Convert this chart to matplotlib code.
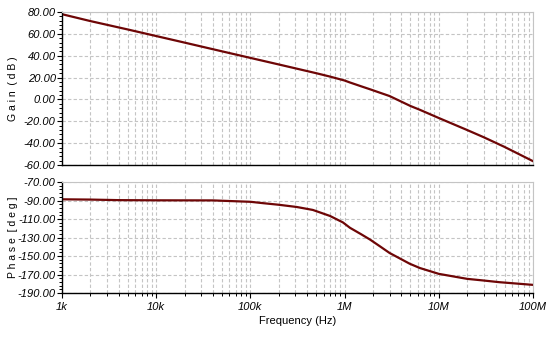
import matplotlib.pyplot as plt
import numpy as np
from matplotlib.ticker import LogLocator, MultipleLocator, AutoMinorLocator, FixedLocator, NullFormatter

plt.rcParams['font.family'] = ['Liberation Sans', 'DejaVu Sans']

# bode data: gain
gain_freq = [1e3, 2e3, 5e3, 1e4, 2e4, 5e4, 1e5, 2e5, 5e5, 7e5, 1e6, 1.14e6,
             1.5e6, 1.86e6, 3e6, 5e6, 6.3e6, 1e7, 2e7, 3e7, 5e7, 1e8]
gain_db = [78.0, 71.7, 64.0, 58.0, 52.0, 44.0, 38.0, 32.0, 24.0, 20.9, 17.3,
           15.5, 12.0, 9.3, 3.1, -6.0, -9.5, -17.0, -28.0, -34.6, -43.5, -56.5]

# bode data: phase
phase_freq = [1e3, 2e3, 4e3, 1e4, 4e4, 1e5, 1.37e5, 2e5, 3.1e5, 4.6e5, 7e5,
              9.6e5, 1.14e6, 1.5e6, 1.86e6, 2.37e6, 3e6, 4.9e6, 6.3e6, 1e7,
              2e7, 3e7, 4.4e7, 1e8]
phase_deg = [-88.7, -89.0, -89.6, -89.8, -89.9, -91.4, -92.9, -94.6, -97.0,
             -100.2, -106.7, -113.7, -119.5, -126.5, -132.2, -139.5, -146.7,
             -158.3, -163.0, -169.3, -174.7, -176.5, -178.3, -181.2]

xtick_vals = [1e3, 1e4, 1e5, 1e6, 1e7, 1e8]
xtick_labels = ['1k', '10k', '100k', '1M', '10M', '100M']

line_col = '#6e0606'
grid_col = '#c4c4c4'

fig = plt.figure(figsize=(5.54, 3.4), dpi=100)
ax1 = fig.add_axes([0.1119, 0.5147, 0.8502, 0.4500])
ax2 = fig.add_axes([0.1119, 0.1382, 0.8502, 0.3265])

ax1.plot(gain_freq, gain_db, color=line_col, lw=1.6)
ax2.plot(phase_freq, phase_deg, color=line_col, lw=1.6)

for ax in (ax1, ax2):
    ax.set_xscale('log')
    ax.set_xlim(1e3, 1e8)
    ax.xaxis.set_major_locator(FixedLocator(xtick_vals))
    ax.xaxis.set_minor_locator(LogLocator(base=10, subs=np.arange(2, 10)))
    ax.xaxis.set_minor_formatter(NullFormatter())
    ax.yaxis.set_minor_locator(AutoMinorLocator(5))
    ax.grid(which='major', color=grid_col, ls=(0, (3, 2)), lw=0.8)
    ax.grid(which='minor', axis='x', color=grid_col, ls=(0, (3, 2)), lw=0.8)
    ax.spines['top'].set_color(grid_col)
    ax.spines['right'].set_color(grid_col)
    ax.spines['left'].set_linewidth(1.0)
    ax.spines['bottom'].set_linewidth(1.0)
    ax.tick_params(which='major', direction='out', length=3.5, width=0.8, labelsize=8)
    ax.tick_params(which='minor', direction='out', length=2, width=0.7)
    ax.tick_params(axis='y', pad=1)

ax1.set_ylim(-60, 80)
gain_ticks = np.arange(-60, 81, 20)
ax1.yaxis.set_major_locator(FixedLocator(gain_ticks))
ax1.set_yticklabels(['%.2f' % v for v in gain_ticks], fontstyle='italic', fontsize=8)
ax1.tick_params(axis='x', which='both', bottom=False, labelbottom=False)

ax2.set_ylim(-190, -70)
phase_ticks = np.arange(-190, -69, 20)
ax2.yaxis.set_major_locator(FixedLocator(phase_ticks))
ax2.set_yticklabels(['%.2f' % v for v in phase_ticks], fontstyle='italic', fontsize=8)
ax2.set_xticklabels(xtick_labels, fontstyle='italic', fontsize=8)
ax2.tick_params(axis='x', pad=3)

ax1.set_ylabel('G a i n  ( d B )', fontsize=7.5)
ax2.set_ylabel('P h a s e  [ d e g ]', fontsize=7.5)
ax2.set_xlabel('Frequency (Hz)', fontsize=8, labelpad=3)
ax1.yaxis.set_label_coords(-0.093, 0.5)
ax2.yaxis.set_label_coords(-0.093, 0.5)

fig.savefig('out.png', dpi=100)
